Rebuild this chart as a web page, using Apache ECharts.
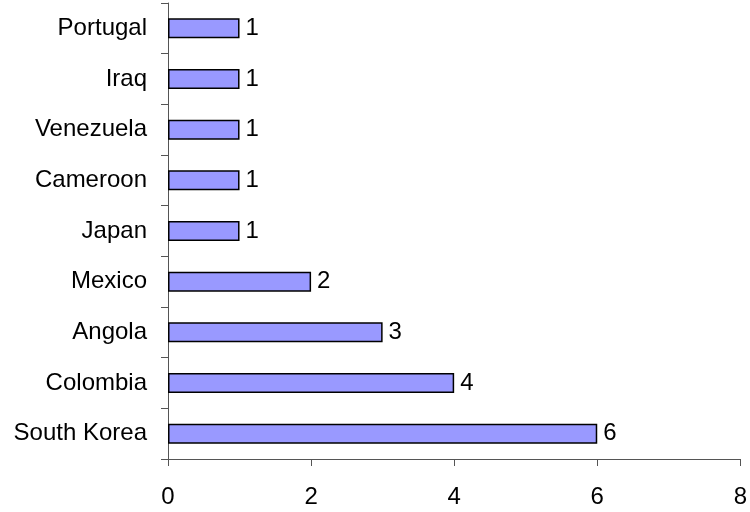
<!DOCTYPE html>
<html>
<head>
<meta charset="utf-8">
<script src="https://cdn.jsdelivr.net/npm/echarts@6/dist/echarts.min.js"></script>
<style>
  html, body { margin: 0; padding: 0; background: #fff; }
  #chart { width: 750px; height: 512px; }
</style>
</head>
<body>
<div id="chart"></div>
<script>
// categories listed bottom to top, as the axis draws them
const countries = ["South Korea", "Colombia", "Angola", "Mexico", "Japan",
  "Cameroon", "Venezuela", "Iraq", "Portugal"];
const counts = [6, 4, 3, 2, 1, 1, 1, 1, 1];
const xTicks = [0, 2, 4, 6, 8];

const chart = echarts.init(document.getElementById("chart"));
const font = "'Liberation Sans', Arial, sans-serif";
const axisColor = "#555";

chart.setOption({
  animation: false,
  grid: { left: 168, right: 9, top: 3, bottom: 53 },
  xAxis: {
    type: "value",
    min: xTicks[0],
    max: xTicks[xTicks.length - 1],
    interval: xTicks[1] - xTicks[0],
    splitLine: { show: false },
    axisLine: { show: true, lineStyle: { color: axisColor, width: 1 } },
    axisTick: { show: true, length: 7, lineStyle: { color: axisColor } },
    axisLabel: { color: "#000", fontSize: 24, fontFamily: font, margin: 26 }
  },
  yAxis: {
    type: "category",
    data: countries,
    axisLine: { show: true, lineStyle: { color: axisColor, width: 1 } },
    axisTick: { show: true, length: 7, lineStyle: { color: axisColor } },
    axisLabel: { color: "#000", fontSize: 24, fontFamily: font, margin: 21 }
  },
  series: [{
    type: "bar",
    data: counts,
    barWidth: 20,
    itemStyle: { color: "#9999ff", borderColor: "#000", borderWidth: 1.5 },
    label: {
      show: true,
      position: "right",
      distance: 6,
      color: "#000",
      fontSize: 24,
      fontFamily: font
    }
  }]
});
</script>
</body>
</html>
